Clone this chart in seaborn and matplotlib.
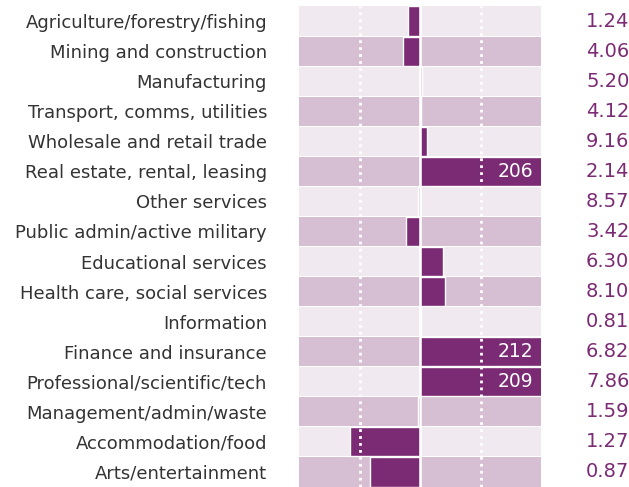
import numpy as np
import pandas as pd
import seaborn as sns
import matplotlib.pyplot as plt
import matplotlib.transforms as mtransforms

industries = ["Agriculture/forestry/fishing", "Mining and construction", "Manufacturing",
              "Transport, comms, utilities", "Wholesale and retail trade",
              "Real estate, rental, leasing", "Other services", "Public admin/active military",
              "Educational services", "Health care, social services", "Information",
              "Finance and insurance", "Professional/scientific/tech",
              "Management/admin/waste", "Accommodation/food", "Arts/entertainment"]
change = [-10, -14, 1.5, 0.5, 5.5, 206, -1.5, -11.5, 19, 21, 1, 212, 209, -1.5, -58, -41]
right_vals = ["1.24", "4.06", "5.20", "4.12", "9.16", "2.14", "8.57", "3.42",
              "6.30", "8.10", "0.81", "6.82", "7.86", "1.59", "1.27", "0.87"]

purple = "#7b2a74"
light = "#f1e9f0"
dark = "#d7bfd3"

df = pd.DataFrame({"industry": industries, "change": change})

fig = plt.figure(figsize=(6.29, 4.87), dpi=100)
ax = fig.add_axes([299/629, 0, 242/629, 481/487])

# bandas alternadas no fundo
for i in range(len(industries)):
    ax.axhspan(i - 0.485, i + 0.485, color=light if i % 2 == 0 else dark, zorder=0, lw=0)

sns.barplot(data=df, x="change", y="industry", orient="h", color=purple,
            width=0.97, edgecolor="white", linewidth=1, saturation=1, ax=ax, zorder=2)

ax.axvline(0, color="white", lw=1.8, zorder=3)
for xv in (-50, 50):
    ax.axvline(xv, color="white", lw=2, ls=(0, (1, 1.5)), zorder=3)

ax.set_xlim(-100, 100)
ax.set_ylim(len(industries) - 0.5, -0.5)

# rotulos dentro das barras que passam do limite
for i, v in enumerate(change):
    if v > 100:
        ax.text(94, i, str(v), ha="right", va="center", color="white", fontsize=13.5,
                zorder=4)

trans = mtransforms.blended_transform_factory(fig.transFigure, ax.transData)
for i, s in enumerate(right_vals):
    ax.text(586/629, i, s, transform=trans, ha="left", va="center",
            color=purple, fontsize=14, clip_on=False)

ax.set_xlabel("")
ax.set_ylabel("")
ax.set_xticks([])
ax.tick_params(axis="y", length=0, pad=23, labelsize=13, labelcolor="#333333")
for sp in ax.spines.values():
    sp.set_visible(False)

fig.savefig("out.png", dpi=100)
